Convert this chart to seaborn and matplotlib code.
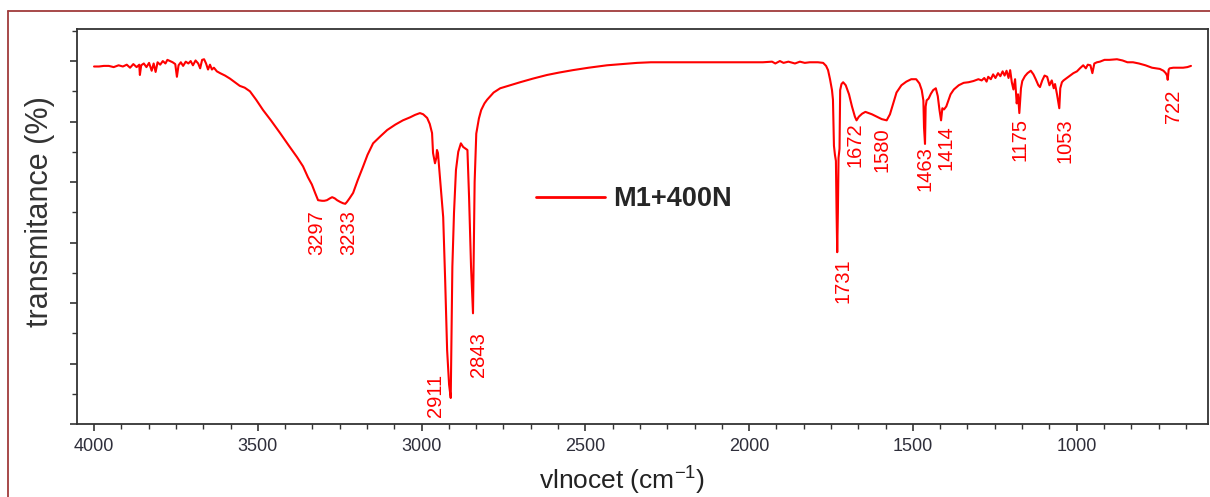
import matplotlib
matplotlib.use("Agg")
import matplotlib.pyplot as plt
from matplotlib.ticker import MultipleLocator, AutoMinorLocator, NullFormatter
from matplotlib.lines import Line2D
import numpy as np
import pandas as pd
import seaborn as sns

# FTIR spectrum of sample M1+400N: wavenumber (cm-1) and transmittance (%)
wavenumber = [
    4000, 3985, 3970, 3955, 3940, 3925, 3912, 3900, 3890, 3880, 3870, 3862, 3860, 3856,
    3848, 3840, 3832, 3824, 3818, 3812, 3806, 3798, 3790, 3782, 3776, 3768, 3760, 3752,
    3747, 3742, 3735, 3728, 3720, 3712, 3705, 3698, 3690, 3682, 3676, 3670, 3664, 3658,
    3652, 3646, 3640, 3634, 3625, 3615, 3600, 3585, 3570, 3555, 3540, 3524, 3505, 3484,
    3460, 3432, 3405, 3380, 3362, 3347, 3335, 3325, 3316, 3304, 3297, 3289, 3280, 3273,
    3265, 3258, 3248, 3240, 3233, 3228, 3220, 3209, 3195, 3179, 3165, 3148, 3125, 3105,
    3080, 3057, 3035, 3020, 3005, 2995, 2983, 2975, 2968, 2965, 2959, 2955, 2953, 2950,
    2944, 2939, 2934, 2928, 2922, 2916, 2911, 2906, 2901, 2895, 2888, 2880, 2873, 2865,
    2860, 2855, 2849, 2843, 2838, 2833, 2825, 2818, 2808, 2800, 2780, 2760, 2730, 2699,
    2660, 2617, 2580, 2538, 2490, 2434, 2390, 2342, 2300, 2251, 2200, 2150, 2110, 2050,
    2000, 1958, 1930, 1920, 1906, 1895, 1880, 1860, 1845, 1830, 1815, 1805, 1790, 1774,
    1765, 1759, 1753, 1747, 1744, 1741, 1738, 1735, 1733, 1731, 1729, 1727, 1724, 1722,
    1718, 1713, 1705, 1695, 1686, 1677, 1672, 1665, 1655, 1645, 1635, 1625, 1610, 1595,
    1580, 1570, 1560, 1550, 1535, 1520, 1505, 1490, 1480, 1473, 1468, 1466, 1463, 1461,
    1458, 1452, 1445, 1438, 1430, 1424, 1419, 1414, 1410, 1405, 1398, 1392, 1385, 1375,
    1360, 1345, 1330, 1315, 1300, 1290, 1282, 1275, 1270, 1262, 1255, 1248, 1240, 1233,
    1226, 1220, 1214, 1208, 1203, 1198, 1193, 1188, 1183, 1179, 1175, 1170, 1166, 1158,
    1150, 1140, 1132, 1125, 1117, 1112, 1105, 1098, 1090, 1083, 1076, 1070, 1066, 1060,
    1056, 1053, 1050, 1045, 1040, 1030, 1020, 1010, 999, 990, 980, 972, 966, 958, 952,
    946, 938, 929, 915, 900, 877, 860, 845, 828, 810, 790, 770, 746, 735, 728, 724, 722,
    719, 716, 705, 690, 675, 662, 651,
]
transmittance = [
    59.1, 59.1, 59.2, 59.2, 59.0, 59.3, 59.1, 59.4, 58.9, 59.5, 59.0, 59.4, 57.7, 59.3,
    59.6, 59.0, 59.7, 58.4, 59.6, 58.2, 59.8, 59.4, 60.0, 59.6, 60.2, 60.0, 59.8, 59.5,
    57.4, 59.3, 59.8, 59.2, 59.9, 59.6, 60.0, 59.3, 60.1, 59.6, 58.8, 60.2, 60.3, 59.6,
    58.6, 59.4, 58.6, 58.9, 58.3, 58.0, 57.6, 57.1, 56.5, 55.9, 55.6, 55.0, 53.6, 51.9,
    50.2, 48.1, 46.0, 44.1, 42.6, 40.8, 39.6, 38.2, 37.0, 36.9, 36.9, 37.0, 37.3, 37.5,
    37.3, 37.0, 36.7, 36.5, 36.4, 36.7, 37.3, 38.2, 40.3, 42.5, 44.5, 46.4, 47.6, 48.6,
    49.5, 50.2, 50.7, 51.1, 51.4, 51.2, 50.6, 49.6, 48.1, 44.8, 43.1, 44.0, 45.3, 44.8,
    40.8, 37.5, 34.2, 23.8, 12.2, 6.5, 4.3, 26.0, 34.9, 42.0, 45.0, 46.4, 45.8, 45.5,
    45.3, 37.5, 26.0, 18.3, 40.0, 48.0, 50.5, 51.9, 53.0, 53.6, 54.8, 55.5, 56.0, 56.5,
    57.1, 57.7, 58.1, 58.5, 58.9, 59.3, 59.5, 59.7, 59.8, 59.8, 59.8, 59.8, 59.8, 59.8,
    59.8, 59.8, 59.9, 59.6, 60.0, 59.7, 59.9, 59.6, 59.9, 59.7, 59.8, 59.8, 59.8, 59.7,
    59.2, 58.5, 57.0, 55.2, 53.6, 46.0, 44.5, 43.5, 35.0, 28.4, 35.0, 44.0, 45.5, 55.2,
    56.2, 56.5, 56.0, 54.5, 52.5, 50.8, 50.2, 50.8, 51.3, 51.6, 51.4, 51.2, 50.8, 50.4,
    50.2, 51.2, 53.0, 54.8, 56.0, 56.6, 57.0, 57.0, 56.3, 55.2, 53.5, 49.0, 46.3, 52.5,
    53.5, 53.8, 54.6, 55.2, 55.5, 54.2, 52.0, 50.2, 52.2, 52.0, 52.5, 53.4, 54.5, 55.3,
    56.0, 56.4, 56.5, 56.7, 57.0, 56.8, 57.2, 56.6, 57.4, 57.0, 57.8, 57.2, 58.0, 57.5,
    58.3, 57.6, 58.4, 57.2, 58.5, 56.5, 55.3, 57.0, 53.0, 54.5, 51.4, 55.5, 56.7, 57.5,
    58.0, 58.4, 57.8, 57.0, 56.0, 55.7, 56.8, 57.6, 57.4, 56.0, 56.8, 55.5, 56.2, 54.5,
    53.2, 52.2, 55.5, 56.5, 56.8, 57.2, 57.6, 58.0, 58.3, 58.8, 59.3, 58.8, 59.4, 59.3,
    58.0, 59.6, 59.8, 59.9, 60.2, 60.2, 60.3, 60.1, 59.8, 59.8, 59.6, 59.3, 58.9, 58.7,
    58.4, 58.0, 57.6, 56.9, 58.6, 58.8, 58.9, 58.9, 58.9, 59.0, 59.2,
]

# Annotated band positions and where their labels sit (label top edge)
peak_labels = ["3297", "3233", "2911", "2843", "1731", "1672", "1580",
               "1463", "1414", "1175", "1053", "722"]
label_x = [3320, 3222, 2958, 2827, 1712, 1677, 1594, 1462, 1398, 1172, 1037, 703]
label_y = [35.4, 35.4, 8.3, 15.2, 27.4, 49.8, 49.1, 46.0, 49.4, 50.6, 50.6, 55.2]

series_name = "M1+400N"

df = pd.DataFrame({"wavenumber": wavenumber, "transmittance": transmittance})

sns.set_style("ticks")
plt.rcParams["font.family"] = ["Liberation Sans", "DejaVu Sans"]
plt.rcParams["mathtext.default"] = "regular"

W, H = 1210, 497
fig = plt.figure(figsize=(W / 100, H / 100), dpi=100)
fig.patch.set_facecolor("white")

ax = fig.add_axes([77 / W, 1 - 424 / H, (1208 - 77) / W, (424 - 29) / H])

sns.lineplot(data=df, x="wavenumber", y="transmittance", ax=ax, color="#ff0000",
             linewidth=1.5, estimator=None, sort=False, legend=False)

ax.set_xlim(4052, 599)
ax.set_ylim(0, 65.3)

ax.xaxis.set_major_locator(MultipleLocator(500))
ax.xaxis.set_minor_locator(AutoMinorLocator(6))
ax.yaxis.set_major_locator(MultipleLocator(10))
ax.yaxis.set_minor_locator(AutoMinorLocator(2))
ax.yaxis.set_major_formatter(NullFormatter())

spine_col = "#333333"
for s in ax.spines.values():
    s.set_visible(True)
    s.set_color(spine_col)
    s.set_linewidth(1.3)

ax.tick_params(axis="both", which="major", direction="out", length=5, width=1.2,
               color=spine_col)
ax.tick_params(axis="both", which="minor", direction="out", length=3.5, width=1.0,
               color=spine_col)
ax.tick_params(axis="x", which="major", labelsize=13, labelcolor="#2e2e3a", pad=5)
ax.set_xlabel("")
ax.set_ylabel("")

for txt, lx, ly in zip(peak_labels, label_x, label_y):
    ax.text(lx, ly, txt, rotation=90, ha="center", va="top", color="#ff0000",
            fontsize=14.5)

handle = Line2D([], [], color="#ff0000", linewidth=2)
ax.legend([handle], [series_name], loc="center left",
          bbox_to_anchor=(536 / W, 1 - 199 / H), bbox_transform=fig.transFigure,
          frameon=False, borderpad=0, borderaxespad=0, handlelength=2.55,
          handletextpad=0.3, prop={"weight": "bold", "size": 19.5})

fig.text(40 / W, 1 - 212 / H, "transmitance (%)", rotation=90, ha="center",
         va="center", fontsize=22, color="#333333")
fig.text(622 / W, 1 - 481 / H, "vlnocet (cm$^{-1}$)", ha="center", va="center",
         fontsize=19, color="#222222")

# Outer frame around the figure
frame_col = "#a03c3c"
fig.add_artist(Line2D([8 / W, 8 / W], [0, 1 - 11 / H], transform=fig.transFigure,
                      color=frame_col, linewidth=1.3))
fig.add_artist(Line2D([8 / W, 1], [1 - 11 / H, 1 - 11 / H], transform=fig.transFigure,
                      color=frame_col, linewidth=1.3))

fig.savefig("out.png", dpi=100)
